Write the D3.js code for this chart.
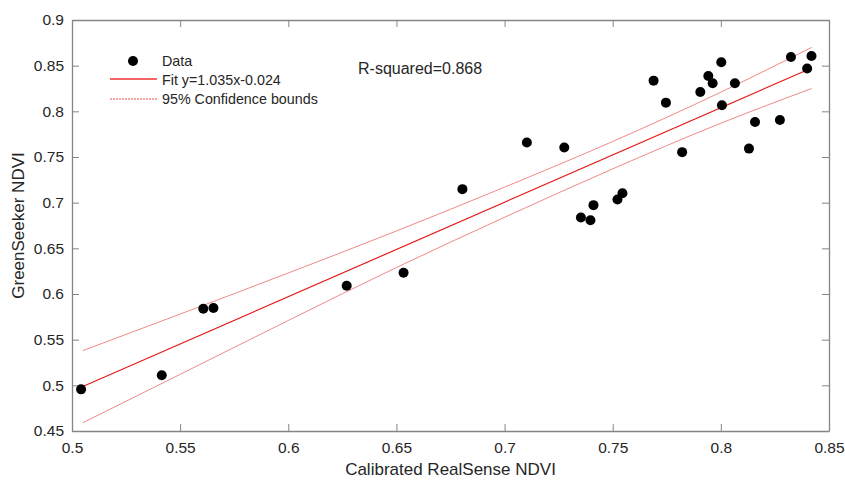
<!DOCTYPE html>
<html>
<head>
<meta charset="utf-8">
<script src="https://cdn.jsdelivr.net/npm/d3@7"></script>
<style>
  body { margin: 0; background: #fff; }
  svg text { font-family: "Liberation Sans", Arial, sans-serif; fill: #262626; }
  .axis path, .axis line { stroke: #858585; }
</style>
</head>
<body>
<svg id="chart" width="845" height="480"></svg>
<script>
// data
var realSense = [0.5042, 0.5415, 0.5607, 0.5654, 0.627, 0.6533, 0.6805, 0.7103, 0.7276,
  0.7353, 0.7397, 0.7411, 0.7522, 0.7545, 0.7689, 0.7746, 0.7821, 0.7905, 0.7942,
  0.7962, 0.8002, 0.8005, 0.8065, 0.813, 0.8158, 0.8273, 0.8324, 0.8399, 0.8419];
var greenSeeker = [0.4956, 0.511, 0.5838, 0.5846, 0.609, 0.6232, 0.7148, 0.7658, 0.7604,
  0.6838, 0.6808, 0.6973, 0.7035, 0.7104, 0.8336, 0.8095, 0.7553, 0.8212, 0.8387,
  0.8307, 0.8537, 0.8067, 0.8307, 0.7592, 0.7884, 0.7906, 0.8595, 0.8468, 0.8606];

// fit line and 95% bounds
var fitX = [0.505, 0.842];
var fitY = [0.4987, 0.8475];
var boundX = [0.505, 0.55, 0.6, 0.65, 0.7, 0.75, 0.8, 0.842];
var upperY = [0.538, 0.578, 0.623, 0.669, 0.717, 0.767, 0.821, 0.870];
var lowerY = [0.459, 0.512, 0.571, 0.629, 0.684, 0.737, 0.787, 0.825];

var xTicks = [0.5, 0.55, 0.6, 0.65, 0.7, 0.75, 0.8, 0.85];
var yTicks = [0.45, 0.5, 0.55, 0.6, 0.65, 0.7, 0.75, 0.8, 0.85, 0.9];

var legendLabels = ["Data", "Fit y=1.035x-0.024", "95% Confidence bounds"];

var svg = d3.select("#chart");
var margin = {top: 20, right: 16, bottom: 49, left: 72};
var width = 845 - margin.left - margin.right;
var height = 480 - margin.top - margin.bottom;

var g = svg.append("g")
  .attr("transform", "translate(" + margin.left + "," + margin.top + ")");

var x = d3.scaleLinear().domain([0.5, 0.85]).range([0, width]);
var y = d3.scaleLinear().domain([0.45, 0.9]).range([height, 0]);
var fmt = function(d) { return d3.format("")(+d.toFixed(2)); };

var tick = 7;
g.append("g")
  .attr("class", "axis")
  .attr("transform", "translate(0," + height + ")")
  .call(d3.axisBottom(x).tickValues(xTicks).tickFormat(fmt).tickSizeInner(-tick).tickSizeOuter(0).tickPadding(11));
g.append("g")
  .attr("class", "axis")
  .call(d3.axisTop(x).tickValues(xTicks).tickFormat("").tickSizeInner(-tick).tickSizeOuter(0));
g.append("g")
  .attr("class", "axis")
  .call(d3.axisLeft(y).tickValues(yTicks).tickFormat(fmt).tickSizeInner(-tick).tickSizeOuter(0).tickPadding(8));
g.append("g")
  .attr("class", "axis")
  .attr("transform", "translate(" + width + ",0)")
  .call(d3.axisRight(y).tickValues(yTicks).tickFormat("").tickSizeInner(-tick).tickSizeOuter(0));

g.selectAll(".axis text")
  .style("font-size", "15.5px")
  .style("fill", "#262626");
g.selectAll(".axis path").attr("stroke-width", 1.3);

// bounds
var line = d3.line()
  .curve(d3.curveMonotoneX)
  .x(function(d) { return x(d[0]); })
  .y(function(d) { return y(d[1]); });

g.append("path")
  .datum(d3.zip(boundX, upperY))
  .attr("fill", "none")
  .attr("stroke", "#f08a8a")
  .attr("stroke-width", 1)
  .attr("d", line);
g.append("path")
  .datum(d3.zip(boundX, lowerY))
  .attr("fill", "none")
  .attr("stroke", "#f08a8a")
  .attr("stroke-width", 1)
  .attr("d", line);
g.append("path")
  .datum(d3.zip(fitX, fitY))
  .attr("fill", "none")
  .attr("stroke", "#e41a1a")
  .attr("stroke-width", 1.2)
  .attr("d", line);

// points
g.selectAll(".dot")
  .data(d3.zip(realSense, greenSeeker))
  .enter().append("circle")
    .attr("class", "dot")
    .attr("cx", function(d) { return x(d[0]); })
    .attr("cy", function(d) { return y(d[1]); })
    .attr("r", 5)
    .attr("fill", "#000");

// legend
var legend = svg.append("g").attr("transform", "translate(110,61)");
legend.append("circle").attr("cx", 23).attr("cy", 0).attr("r", 5).attr("fill", "#000");
legend.append("line").attr("x1", 0).attr("x2", 47).attr("y1", 18).attr("y2", 18)
  .attr("stroke", "#f03030").attr("stroke-width", 1.4);
legend.append("line").attr("x1", 0).attr("x2", 47).attr("y1", 38).attr("y2", 38)
  .attr("stroke", "#f28888").attr("stroke-width", 1.4).attr("stroke-dasharray", "2,1");
legend.selectAll("text.lab")
  .data(legendLabels)
  .enter().append("text")
    .attr("class", "lab")
    .attr("x", 52)
    .attr("y", function(d, i) { return i * 19 + 5; })
    .style("font-size", "14.3px")
    .text(function(d) { return d; });

svg.append("text")
  .attr("x", 358)
  .attr("y", 74)
  .style("font-size", "16px")
  .text("R-squared=0.868");

svg.append("text")
  .attr("x", margin.left + width / 2)
  .attr("y", 475)
  .attr("text-anchor", "middle")
  .style("font-size", "17px")
  .text("Calibrated RealSense NDVI");

svg.append("text")
  .attr("transform", "translate(24," + (margin.top + height / 2) + ") rotate(-90)")
  .attr("text-anchor", "middle")
  .style("font-size", "17px")
  .text("GreenSeeker NDVI");
</script>
</body>
</html>
